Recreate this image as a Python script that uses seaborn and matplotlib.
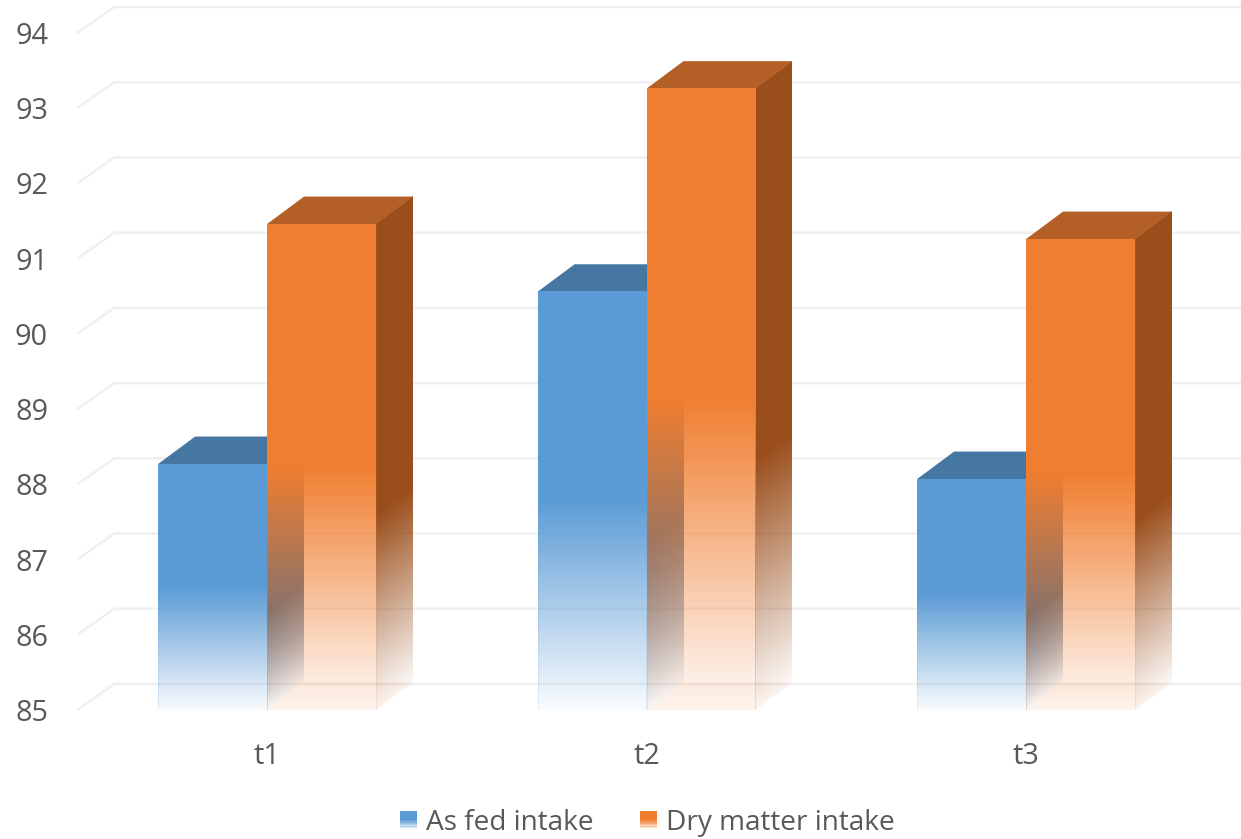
import numpy as np
import pandas as pd
import matplotlib
matplotlib.use("Agg")
import matplotlib.pyplot as plt
from matplotlib.colors import to_rgb
from matplotlib.legend_handler import HandlerBase
from matplotlib.patches import Polygon, Rectangle
from matplotlib.transforms import Affine2D
import seaborn as sns

periods = ["t1", "t2", "t3"]
as_fed_intake = [88.27, 90.56, 88.07]
dry_matter_intake = [91.46, 93.26, 91.26]
series_names = ["As fed intake", "Dry matter intake"]

FRONT = ["#5B9BD5", "#F07E30"]
TOP = ["#4676A2", "#B45F25"]
SIDE = ["#3C6A96", "#9A4E1B"]
FLOOR_ALPHA = [0.0, 0.05]
GRID = "#F0F0F0"
TEXT = "#595959"
Y_MIN, Y_MAX = 85, 94

W, H = 1241, 839
sns.set_theme(style="white")
plt.rcParams["font.family"] = ["Open Sans", "DejaVu Sans"]

positions = np.arange(len(periods))
df = pd.DataFrame({
    "position": np.tile(positions, 2),
    "series": [series_names[0]] * 3 + [series_names[1]] * 3,
    "intake": as_fed_intake + dry_matter_intake,
})

fig = plt.figure(figsize=(W / 100, H / 100), dpi=100, facecolor="white")
ax = fig.add_axes([77.25 / W, 1 - 710 / H, 1138.5 / W, 677 / H])

sns.barplot(data=df, x="position", y="intake", hue="series", hue_order=series_names,
            palette=FRONT, width=0.574, gap=0, dodge=True, saturation=1,
            native_scale=True, legend=False, ax=ax)
ax.set_xlim(-0.5, 2.5)
ax.set_ylim(Y_MIN, Y_MAX)
ax.set_xlabel("")
ax.set_ylabel("")
ax.set_xticks(positions, periods)
ax.set_yticks(range(Y_MIN, Y_MAX + 1))
sns.despine(ax=ax, left=True, bottom=True)
ax.tick_params(axis="y", length=0, pad=21, labelsize=20.8, labelcolor=TEXT)
ax.tick_params(axis="x", length=0, pad=22.8, labelsize=20.8, labelcolor=TEXT)

# Depth of the box and of the back wall, in data units
PX_PER_UNIT = 677 / 9
DX = 37 / 379.5
DY = 27.5 / PX_PER_UNIT
WALL_DY = 26 / PX_PER_UNIT


def draw_face(x_left, x_right, v_top, shear, color, z, solid_from=0.5):
    """Full face, opaque above solid_from of its height and fading out towards the base."""
    edges = np.linspace(Y_MIN, v_top, 513)
    frac = (edges[:-1] + edges[1:]) / 2
    frac = (frac - Y_MIN) / (v_top - Y_MIN)
    rgba = np.zeros((512, 1, 4))
    rgba[..., :3] = to_rgb(color)
    rgba[:, 0, 3] = np.clip(0.03 + 0.97 * frac / solid_from, 0, 1)
    slope = shear / (x_right - x_left)
    skew = Affine2D(np.array([[1, 0, 0], [slope, 1, -slope * x_left], [0, 0, 1]]))
    ax.imshow(rgba, origin="lower", extent=(x_left, x_right, Y_MIN, v_top), aspect="auto",
              interpolation="nearest", transform=skew + ax.transData, zorder=z, clip_on=False)


# Receding gridlines: short diagonal from the front plane, then along the back wall
x0, x1 = ax.get_xlim()
for tick in range(Y_MIN, Y_MAX + 1):
    ax.plot([x0, x0 + DX, x1 + DX], [tick, tick + WALL_DY, tick + WALL_DY], color=GRID, lw=1.8,
            zorder=0.5, clip_on=False, solid_capstyle="butt")

for s, container in enumerate(ax.containers):
    for bar in container:
        left, right = bar.get_x(), bar.get_x() + bar.get_width()
        top = bar.get_height()
        base_z = 2 + s
        # The bar itself only keeps a faint outline; its faces are painted below
        bar.set_facecolor("none")
        bar.set_edgecolor((*to_rgb(FRONT[s]), 0.15))
        bar.set_linewidth(0.7)
        bar.set_zorder(base_z + 0.4)

        # floor of the box
        ax.add_patch(Polygon([(left, Y_MIN), (right, Y_MIN), (right + DX, Y_MIN + DY),
                              (left + DX, Y_MIN + DY)], closed=True, fc=FRONT[s], ec="none",
                             alpha=FLOOR_ALPHA[s], zorder=base_z, clip_on=False))
        draw_face(right, right + DX, top, DY, SIDE[s], base_z + 0.1, solid_from=0.4)
        # top face
        ax.add_patch(Polygon([(left, top), (right, top), (right + DX, top + DY),
                              (left + DX, top + DY)], closed=True, fc=TOP[s], ec="none",
                             zorder=base_z + 0.2, clip_on=False))
        draw_face(left, right, top, 0, FRONT[s], base_z + 0.3)

ax.set_xlim(-0.5, 2.5)
ax.set_ylim(Y_MIN, Y_MAX)
ax.set_aspect("auto")


class FadingSwatch(HandlerBase):
    """Legend key in the same fading fill as the bars."""

    def create_artists(self, legend, orig_handle, xdescent, ydescent, width, height,
                       fontsize, trans):
        n = 14
        artists = []
        for i in range(n):
            frac = (i + 0.5) / n
            artists.append(Rectangle((-xdescent, -ydescent + height * i / n), width,
                                     height / n + 0.1, fc=orig_handle.get_facecolor()[:3],
                                     ec="none", alpha=float(np.clip(frac / 0.5, 0.03, 1)),
                                     transform=trans))
        return artists


handles = [Rectangle((0, 0), 1, 1, fc=c) for c in FRONT]
ax.legend(handles, series_names, ncol=2, frameon=False, fontsize=20.15, labelcolor=TEXT,
          handler_map={Rectangle: FadingSwatch()},
          loc="center", bbox_to_anchor=(647 / W, 1 - 823 / H), bbox_transform=fig.transFigure,
          handlelength=0.61, handleheight=0.61, handletextpad=0.32, columnspacing=1.65,
          borderpad=0, borderaxespad=0)

fig.savefig("out.png", dpi=100, facecolor="white")
